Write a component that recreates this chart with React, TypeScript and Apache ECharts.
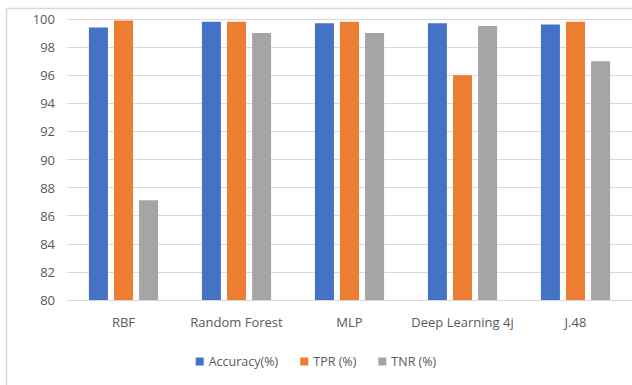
import React, { useEffect, useRef } from "react";
import * as echarts from "echarts";

const categories = ["RBF", "Random Forest", "MLP", "Deep Learning 4j", "J.48"];
const accuracy = [99.4, 99.8, 99.7, 99.7, 99.6];
const tpr = [99.9, 99.8, 99.8, 96.0, 99.8];
const tnr = [87.1, 99.0, 99.0, 99.5, 97.0];
const seriesNames = ["Accuracy(%)", "TPR (%)", "TNR (%)"];
const colors = ["#4472C4", "#ED7D31", "#A5A5A5"];

export default function App() {
  const ref = useRef<HTMLDivElement>(null);
  useEffect(() => {
    document.body.style.margin = "0";
    const chart = echarts.init(ref.current!, undefined, { renderer: "svg" });
    const font = "'Open Sans', 'Noto Sans', sans-serif";
    const mk = (name: string, data: number[], color: string) => ({
      name,
      type: "bar",
      data,
      barWidth: 19,
      barGap: "32%",
      itemStyle: { color },
    });
    chart.setOption({
      animation: false,
      backgroundColor: "#ffffff",
      textStyle: { fontFamily: font },
      graphic: [
        {
          type: "rect",
          shape: { x: 6.5, y: 8.5, width: 700, height: 400 },
          style: { fill: "none", stroke: "#d9d9d9", lineWidth: 1.5 },
          silent: true,
        },
      ],
      legend: {
        bottom: 12,
        left: "center",
        itemWidth: 8,
        itemHeight: 8,
        itemGap: 22,
        icon: "rect",
        textStyle: { color: "#595959", fontSize: 12.5, fontFamily: font },
        data: seriesNames,
      },
      grid: { left: 67, top: 19, width: 566, bottom: 85 },
      xAxis: {
        type: "category",
        data: categories,
        axisLine: { lineStyle: { color: "#d9d9d9" } },
        axisTick: { show: false },
        axisLabel: { color: "#595959", fontSize: 13, margin: 15, interval: 0, fontFamily: font },
      },
      yAxis: {
        type: "value",
        min: 80,
        max: 100,
        interval: 2,
        axisLine: { show: false },
        axisTick: { show: false },
        splitLine: { lineStyle: { color: "#d9d9d9" } },
        axisLabel: { color: "#595959", fontSize: 13, margin: 12, fontFamily: font },
      },
      series: [
        mk(seriesNames[0], accuracy, colors[0]),
        mk(seriesNames[1], tpr, colors[1]),
        mk(seriesNames[2], tnr, colors[2]),
      ],
    });
    return () => chart.dispose();
  }, []);
  return <div ref={ref} style={{ width: 632, height: 385 }} />;
}
